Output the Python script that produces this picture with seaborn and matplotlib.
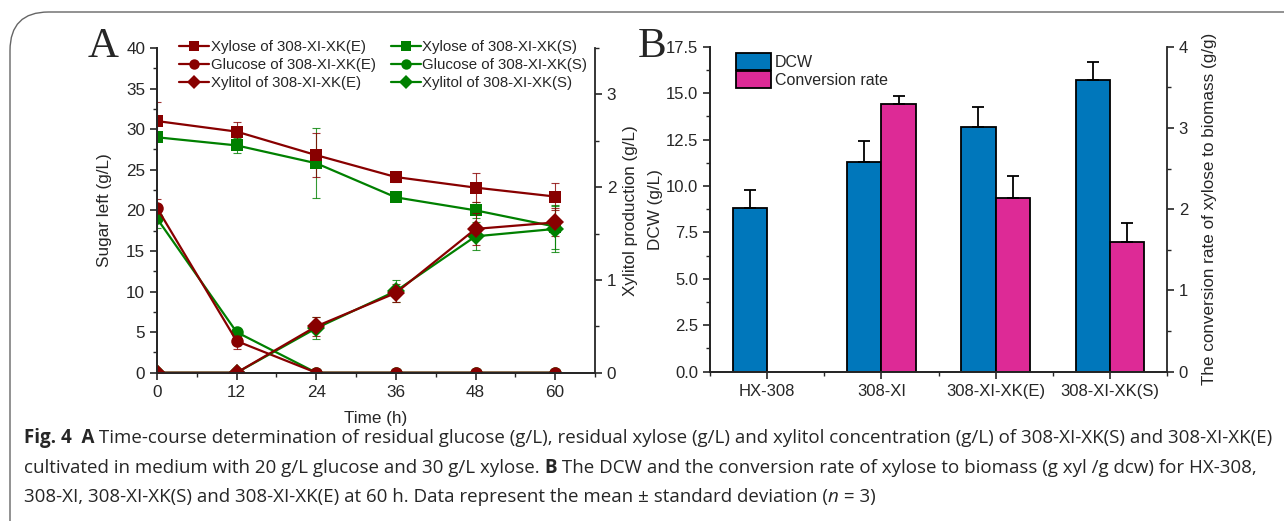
import numpy as np
import pandas as pd
import matplotlib
matplotlib.use("Agg")
import matplotlib.pyplot as plt
import seaborn as sns
from matplotlib.lines import Line2D
from matplotlib.patches import Patch, FancyBboxPatch
from matplotlib.ticker import MultipleLocator, FormatStrFormatter

# ---------- data: panel A (time course) ----------
time_h = [0, 12, 24, 36, 48, 60]
xylose_E = [31.0, 29.7, 26.8, 24.1, 22.8, 21.7]
xylose_E_sd = [2.4, 1.2, 2.7, 0.6, 1.8, 1.7]
xylose_S = [29.0, 28.0, 25.8, 21.6, 20.0, 18.0]
xylose_S_sd = [0.3, 0.9, 4.3, 0.3, 1.0, 2.7]
glucose_E = [20.3, 3.9, 0, 0, 0, 0]
glucose_E_sd = [1.1, 1.0, 0, 0, 0, 0]
glucose_S = [19.0, 5.0, 0, 0, 0, 0]
glucose_S_sd = [1.2, 0.4, 0, 0, 0, 0]
xylitol_E = [0, 0, 0.50, 0.86, 1.55, 1.62]
xylitol_E_sd = [0, 0, 0.10, 0.10, 0.17, 0.15]
xylitol_S = [0, 0, 0.48, 0.88, 1.47, 1.55]
xylitol_S_sd = [0, 0, 0.12, 0.12, 0.15, 0.25]

# ---------- data: panel B (bars) ----------
strains = ["HX-308", "308-XI", "308-XI-XK(E)", "308-XI-XK(S)"]
dcw = [8.8, 11.3, 13.2, 15.7]
dcw_sd = [1.0, 1.1, 1.05, 1.0]
conv = [np.nan, 3.29, 2.14, 1.60]
conv_sd = [0, 0.10, 0.27, 0.23]

RED = "#880000"
GREEN = "#008000"
BLUE = "#0077bb"
PINK = "#dd2a96"

sns.set_style("ticks")
plt.rcParams["font.family"] = ["Liberation Sans", "DejaVu Sans"]
plt.rcParams["xtick.major.size"] = 5
plt.rcParams["ytick.major.size"] = 5
plt.rcParams["xtick.minor.size"] = 3
plt.rcParams["ytick.minor.size"] = 3
plt.rcParams["axes.linewidth"] = 1.3

TICK_FS = 12.3
LABEL_FS = 12.3

fig = plt.figure(figsize=(12.84, 5.21), dpi=100)

# rounded frame around figure + caption
frame = FancyBboxPatch((10 / 1284, -0.2), 1.2, 1.2 - 12 / 521,
                       boxstyle="round,pad=0,rounding_size=0.03",
                       transform=fig.transFigure, fill=False,
                       edgecolor="#666666", lw=1.0, mutation_aspect=1284 / 521)
fig.add_artist(frame)

# ---------- Panel A ----------
axA = fig.add_axes([157 / 1284, 1 - 372.7 / 521, 438 / 1284, 324.7 / 521])
axA2 = axA.twinx()

sugar = pd.DataFrame({
    "time": time_h * 4,
    "value": xylose_S + glucose_S + xylose_E + glucose_E,
    "series": (["Xylose S"] * 6 + ["Glucose S"] * 6 + ["Xylose E"] * 6 + ["Glucose E"] * 6),
})
xylitol = pd.DataFrame({
    "time": time_h * 2,
    "value": xylitol_S + xylitol_E,
    "series": ["Xylitol S"] * 6 + ["Xylitol E"] * 6,
})
palette = {"Xylose S": GREEN, "Glucose S": GREEN, "Xylose E": RED, "Glucose E": RED,
           "Xylitol S": GREEN, "Xylitol E": RED}
markers = {"Xylose S": "s", "Glucose S": "o", "Xylose E": "s", "Glucose E": "o",
           "Xylitol S": "D", "Xylitol E": "D"}

# error bars first (under the lines)
for vals, sd, c in [(xylose_S, xylose_S_sd, GREEN), (glucose_S, glucose_S_sd, GREEN),
                    (xylose_E, xylose_E_sd, RED), (glucose_E, glucose_E_sd, RED)]:
    axA.errorbar(time_h, vals, yerr=sd, fmt="none", ecolor=c, elinewidth=0.8,
                 capsize=3, capthick=0.8, alpha=0.8)
for vals, sd, c in [(xylitol_S, xylitol_S_sd, GREEN), (xylitol_E, xylitol_E_sd, RED)]:
    axA2.errorbar(time_h, vals, yerr=sd, fmt="none", ecolor=c, elinewidth=0.8,
                  capsize=3, capthick=0.8, alpha=0.8)

sns.lineplot(data=sugar, x="time", y="value", hue="series", style="series",
             palette=palette, markers=markers, dashes=False, markersize=9,
             markeredgewidth=0, linewidth=1.6, legend=False, ax=axA,
             hue_order=["Xylose S", "Glucose S", "Xylose E", "Glucose E"])
sns.lineplot(data=xylitol, x="time", y="value", hue="series", style="series",
             palette=palette, markers=markers, dashes=False, markersize=9,
             markeredgewidth=0, linewidth=1.6, legend=False, ax=axA2,
             hue_order=["Xylitol S", "Xylitol E"])

axA.set_xlim(0, 66)
axA.set_ylim(0, 40)
axA2.set_ylim(0, 3.5)
axA.xaxis.set_major_locator(MultipleLocator(12))
axA.xaxis.set_minor_locator(MultipleLocator(6))
axA.yaxis.set_major_locator(MultipleLocator(5))
axA.yaxis.set_minor_locator(MultipleLocator(2.5))
axA2.yaxis.set_major_locator(MultipleLocator(1))
axA2.yaxis.set_minor_locator(MultipleLocator(0.5))
for a in (axA, axA2):
    a.spines["top"].set_visible(False)
    a.tick_params(labelsize=TICK_FS, width=1.2)
    a.tick_params(which="minor", width=1.0)
axA.spines["right"].set_visible(False)
axA2.spines["right"].set_visible(True)
axA.set_xlabel("Time (h)", fontsize=LABEL_FS, labelpad=8)
axA.set_ylabel("Sugar left (g/L)", fontsize=LABEL_FS, labelpad=10)
axA2.set_ylabel("Xylitol production (g/L)", fontsize=LABEL_FS, labelpad=5)

legend_rows = [("Xylose of 308-XI-XK(E)", RED, "s"), ("Glucose of 308-XI-XK(E)", RED, "o"),
               ("Xylitol of 308-XI-XK(E)", RED, "D"), ("Xylose of 308-XI-XK(S)", GREEN, "s"),
               ("Glucose of 308-XI-XK(S)", GREEN, "o"), ("Xylitol of 308-XI-XK(S)", GREEN, "D")]
handles = [Line2D([], [], color=c, marker=m, markersize=7.5, markeredgewidth=0, lw=1.6, label=l)
           for l, c, m in legend_rows]
axA2.legend(handles=handles, ncol=2, frameon=False, fontsize=10.8, loc="upper left",
            bbox_to_anchor=(0.02, 1.065), handlelength=2.0, handletextpad=0.1,
            columnspacing=1.0, labelspacing=0.25)

fig.text(88 / 1284, 1 - 57 / 521, "A", family="Liberation Serif", fontsize=31)

# ---------- Panel B ----------
axB = fig.add_axes([710 / 1284, 1 - 371.7 / 521, 457 / 1284, 325 / 521])
axB2 = axB.twinx()
hue_levels = ["DCW", "Conversion rate"]
df_dcw = pd.DataFrame({"strain": strains * 2, "value": dcw + [np.nan] * 4,
                       "kind": ["DCW"] * 4 + ["Conversion rate"] * 4})
df_conv = pd.DataFrame({"strain": strains * 2, "value": [np.nan] * 4 + conv,
                        "kind": ["DCW"] * 4 + ["Conversion rate"] * 4})
sns.barplot(data=df_dcw, x="strain", y="value", hue="kind", hue_order=hue_levels,
            order=strains, palette={"DCW": BLUE, "Conversion rate": PINK}, width=0.6,
            edgecolor="black", linewidth=1.3, saturation=1, legend=False, ax=axB)
sns.barplot(data=df_conv, x="strain", y="value", hue="kind", hue_order=hue_levels,
            order=strains, palette={"DCW": BLUE, "Conversion rate": PINK}, width=0.6,
            edgecolor="black", linewidth=1.3, saturation=1, legend=False, ax=axB2)

pos = np.arange(len(strains))
axB.errorbar(pos - 0.15, dcw, yerr=[np.zeros(4), dcw_sd], fmt="none", ecolor="black",
             elinewidth=1.3, capsize=4, capthick=1.3)
axB2.errorbar(pos + 0.15, conv, yerr=[np.zeros(4), conv_sd], fmt="none", ecolor="black",
              elinewidth=1.3, capsize=4, capthick=1.3)

axB.set_xlim(-0.5, 3.5)
axB.set_ylim(0, 17.5)
axB2.set_ylim(0, 4)
axB.yaxis.set_major_locator(MultipleLocator(2.5))
axB.yaxis.set_minor_locator(MultipleLocator(1.25))
axB.yaxis.set_major_formatter(FormatStrFormatter("%.1f"))
axB2.yaxis.set_major_locator(MultipleLocator(1))
axB2.yaxis.set_minor_locator(MultipleLocator(0.5))
axB.set_xticks(pos, strains)
axB.xaxis.set_minor_locator(MultipleLocator(1, offset=0.5))
for a in (axB, axB2):
    a.spines["top"].set_visible(False)
    a.tick_params(labelsize=12, width=1.2)
    a.tick_params(which="minor", width=1.0)
    a.set_xlabel("")
axB.spines["right"].set_visible(False)
axB2.spines["right"].set_visible(True)
axB.set_ylabel("DCW (g/L)", fontsize=LABEL_FS, labelpad=2)
axB2.set_ylabel("The conversion rate of xylose to biomass (g/g)", fontsize=LABEL_FS, labelpad=10)

bar_handles = [Patch(facecolor=BLUE, edgecolor="black", lw=1.3, label="DCW"),
               Patch(facecolor=PINK, edgecolor="black", lw=1.3, label="Conversion rate")]
axB2.legend(handles=bar_handles, frameon=False, fontsize=11.5, loc="upper left",
            bbox_to_anchor=(0.035, 1.01), handlelength=2.2, handleheight=1.25,
            handletextpad=0.25, labelspacing=0.05, borderaxespad=0.2)

fig.text(638 / 1284, 1 - 57 / 521, "B", family="Liberation Serif", fontsize=31)

# ---------- caption ----------
renderer = fig.canvas.get_renderer()


def caption_line(y, runs, size=13.5):
    x = 24 / 1284
    for txt, weight, style in runs:
        t = fig.text(x, y, txt, fontsize=size, fontweight=weight, fontstyle=style,
                     family=["Open Sans", "DejaVu Sans"], va="baseline")
        bb = t.get_window_extent(renderer)
        x = bb.x1 / fig.bbox.width


caption_line(1 - 443 / 521, [
    ("Fig. 4  A", "bold", "normal"),
    (" Time-course determination of residual glucose (g/L), residual xylose (g/L) and xylitol "
     "concentration (g/L) of 308-XI-XK(S) and 308-XI-XK(E)", "normal", "normal")])
caption_line(1 - 473 / 521, [
    ("cultivated in medium with 20 g/L glucose and 30 g/L xylose. ", "normal", "normal"),
    ("B", "bold", "normal"),
    (" The DCW and the conversion rate of xylose to biomass (g xyl /g dcw) for HX-308,",
     "normal", "normal")])
caption_line(1 - 502 / 521, [
    ("308-XI, 308-XI-XK(S) and 308-XI-XK(E) at 60 h. Data represent the mean \u00b1 standard "
     "deviation (", "normal", "normal"),
    ("n", "normal", "italic"),
    (" = 3)", "normal", "normal")])

fig.savefig("out.png", dpi=100)
